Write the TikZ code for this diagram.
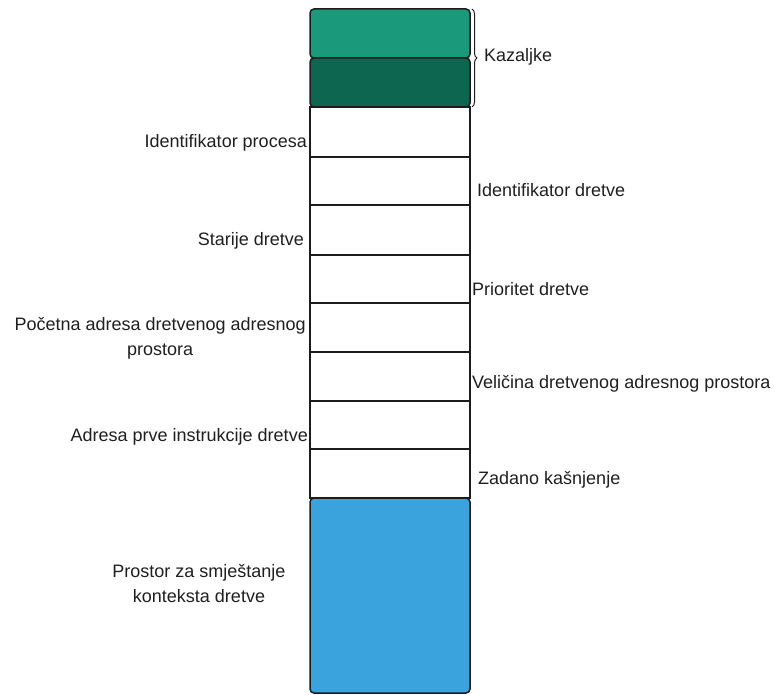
\documentclass[tikz,border=0pt]{standalone}
\usepackage{fontspec}
\setmainfont{Liberation Sans}
\usetikzlibrary{decorations.pathreplacing}
\definecolor{gA}{HTML}{1A9A7B}
\definecolor{gB}{HTML}{0C6650}
\definecolor{bl}{HTML}{3AA2DC}
\definecolor{ln}{HTML}{1C1C1C}
\begin{document}
\begin{tikzpicture}[x=1pt,y=-1pt,
  cell/.style={draw=ln,line width=1.5pt,minimum width=160pt,inner sep=0pt,anchor=center,fill=white},
  rcell/.style={cell,rounded corners=4pt},
  lab/.style={font=\fontsize{18}{25}\selectfont,inner sep=0pt,text=black!88}]
\useasboundingbox (0,0) rectangle (774,695);
% pointer boxes
\node[rcell,fill=gA,minimum height=49pt] (g1) at (390,33.5) {};
\node[rcell,fill=gB,minimum height=49pt] (g2) at (390,82.5) {};
% white cells
\node[cell,minimum height=50pt] (w1) at (390,132) {};
\node[cell,minimum height=48pt] (w2) at (390,181) {};
\node[cell,minimum height=50pt] (w3) at (390,230) {};
\node[cell,minimum height=48pt] (w4) at (390,279) {};
\node[cell,minimum height=49pt] (w5) at (390,327.5) {};
\node[cell,minimum height=49pt] (w6) at (390,376.5) {};
\node[cell,minimum height=48pt] (w7) at (390,425) {};
\node[cell,minimum height=49pt] (w8) at (390,473.5) {};
% context area
\node[rcell,fill=bl,minimum height=195pt] (ctx) at (390,595.5) {};
% brace
\coordinate (bt) at (472,9);
\coordinate (bb) at (472,107);
\draw[line width=1pt,ln,decorate,decoration={brace,amplitude=5pt,aspect=0.5}] (bt) -- (bb);
% labels
\node[lab,anchor=west] (kaz) at (484,57) {Kazaljke};
\node[lab,anchor=east] (l1) at (307,143) {Identifikator procesa};
\node[lab,anchor=east] (l2) at (304,241) {Starije dretve};
\node[lab,anchor=east,align=center] (l3) at (306,338) {Početna adresa dretvenog adresnog\\prostora};
\node[lab,anchor=east] (l4) at (308,437) {Adresa prve instrukcije dretve};
\node[lab,anchor=west] (r1) at (477,190) {Identifikator dretve};
\node[lab,anchor=west] (r2) at (472,289) {Prioritet dretve};
\node[lab,anchor=west] (r3) at (472,384) {Veličina dretvenog adresnog prostora};
\node[lab,anchor=west] (r4) at (478,480) {Zadano kašnjenje};
\node[lab,align=center] (l5) at (199,584) {Prostor za smještanje\\konteksta dretve};
\end{tikzpicture}
\end{document}
